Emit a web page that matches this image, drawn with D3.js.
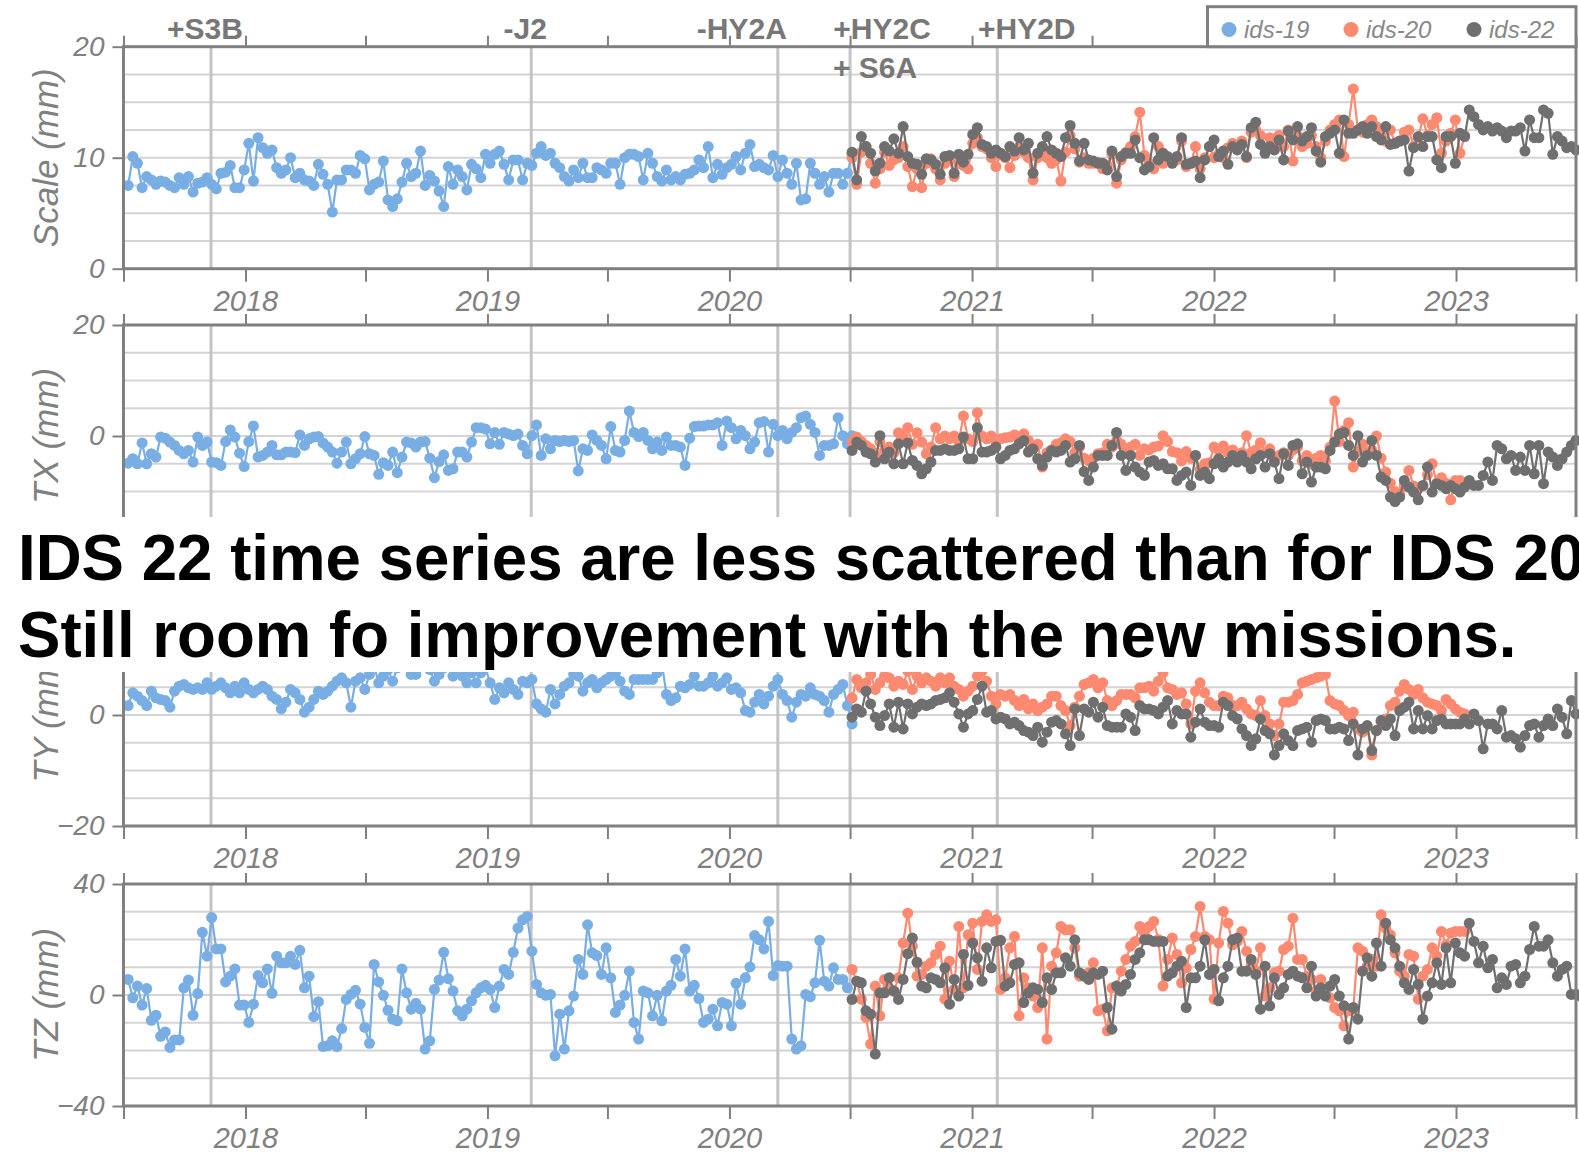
<!DOCTYPE html>
<html>
<head>
<meta charset="utf-8">
<script src="https://cdn.jsdelivr.net/npm/d3@7"></script>
<style>
  body { margin: 0; background: #fff; }
  svg { display: block; }
  text { font-family: "Liberation Sans", Arial, Helvetica, sans-serif; }
</style>
</head>
<body>
<div id="chart"></div>
<script>
// weekly solutions
const start19 = new Date(2017, 6, 8)
const start2x = new Date(2020, 6, 4)

const scale19 = [7.5,10.1,9.5,7.3,8.3,8.0,7.6,7.9,7.8,7.5,7.3,8.2,7.6,8.3,6.9,7.7,7.8,8.2,7.6,7.2,
  8.6,8.7,9.3,7.3,7.3,8.9,11.3,7.9,11.8,10.9,10.4,10.7,9.1,8.6,8.9,10.0,8.2,8.6,8.0,7.9,
  7.5,9.4,8.5,7.6,5.1,8.0,8.0,8.9,8.9,8.6,10.2,9.9,7.1,7.6,7.8,9.7,6.2,5.6,6.3,7.8,
  9.5,8.3,8.6,10.6,7.5,8.4,7.9,7.0,5.6,9.2,7.6,8.9,8.3,7.1,9.4,9.0,8.2,10.3,9.5,10.3,
  10.6,9.4,8.0,9.8,9.8,8.0,9.5,9.3,10.4,11.0,10.2,10.4,9.5,9.1,8.3,7.9,8.9,8.2,9.5,8.2,
  8.2,9.1,8.9,8.6,9.5,9.5,7.6,10.0,10.3,10.3,10.1,8.0,10.4,9.5,8.3,7.9,8.9,8.0,8.3,8.0,
  8.5,8.6,8.9,9.8,9.1,11.0,8.2,9.4,8.5,9.1,9.4,10.1,8.9,10.4,11.2,9.2,9.4,9.1,8.9,10.2,
  8.3,9.8,8.6,7.6,9.5,6.2,6.3,9.5,8.6,7.6,8.3,6.9,8.6,8.6,7.6,8.6,10.3]
const scale20 = [10.0,7.6,10.5,11.0,9.5,7.7,9.0,10.5,9.3,9.8,10.0,11.0,9.2,7.4,9.0,7.3,9.5,9.9,9.0,8.0,
  9.5,9.8,8.3,9.5,9.3,9.0,11.3,11.8,11.0,10.8,10.0,9.2,10.3,10.0,9.1,10.2,11.0,10.5,10.0,8.0,
  10.0,10.6,10.0,9.5,9.8,7.9,10.5,12.0,10.8,9.6,10.0,9.5,9.5,9.6,9.0,9.3,10.3,7.7,9.8,10.5,
  11.0,11.9,14.1,10.2,9.5,9.0,11.0,9.5,10.0,9.8,9.8,11.5,9.2,9.5,11.0,9.0,10.0,11.0,10.0,10.3,
  10.0,10.9,11.3,11.0,11.5,10.0,12.3,12.5,12.0,10.8,11.8,11.0,12.0,11.0,12.5,9.7,12.0,11.0,11.3,12.0,
  11.0,10.0,11.5,12.5,13.0,13.4,10.1,13.0,16.2,12.5,12.3,13.0,13.4,12.8,12.0,11.5,12.5,11.3,11.5,12.3,
  12.5,11.0,11.8,13.5,12.0,13.0,13.6,10.4,11.5,12.2,13.4,10.4,12.0]
const scale22 = [10.5,8.0,11.9,11.0,10.4,8.8,9.5,11.0,10.6,11.7,10.4,12.8,10.1,9.5,9.4,8.5,9.9,9.8,9.4,8.5,
  10.1,10.2,8.6,10.3,9.6,10.3,12.1,12.7,11.2,11.0,10.4,10.7,10.4,10.1,11.0,10.6,11.8,10.7,11.3,8.6,
  10.4,11.0,11.9,10.7,10.4,10.1,11.8,12.9,11.3,9.7,11.3,9.8,9.7,9.5,9.5,8.9,10.6,8.3,10.1,10.4,
  10.4,11.6,10.0,8.9,9.2,11.8,9.8,10.4,10.1,9.5,10.1,11.8,9.4,9.5,9.7,8.2,9.8,11.0,11.6,10.1,
  10.6,9.4,11.0,10.7,11.2,10.1,12.7,13.2,11.2,10.4,11.0,10.7,11.6,9.8,12.4,11.6,12.8,11.5,11.9,12.7,
  10.6,9.6,11.9,12.2,12.5,10.4,13.4,12.2,12.2,12.5,12.8,12.2,12.8,11.9,11.6,12.8,11.2,11.3,11.5,11.6,
  8.8,10.9,11.9,11.0,11.9,11.9,9.8,9.1,11.9,11.9,9.5,12.2,11.9,14.3,13.7,13.0,12.5,12.8,12.4,12.7,
  12.4,11.8,12.4,12.4,12.7,10.6,13.4,11.8,11.8,14.3,14.0,10.3,11.9,11.5,10.9,11.0,10.7]

const tx19 = [-4.9,-4.1,-5.0,-1.25,-5.0,-3.2,-3.8,-0.2,-0.4,-1.1,-1.7,-2.6,-3.2,-2.6,-4.7,-0.2,-1.7,-1.1,-4.7,-4.8,
  -5.3,-1.0,1.1,-0.2,-3.1,-5.5,-1.0,1.8,-3.8,-3.5,-2.9,-1.7,-3.4,-3.4,-2.9,-2.9,-3.0,0.2,-1.7,-0.5,
  -0.2,-0.1,-1.25,-2.0,-2.9,-4.9,-2.9,-1.1,-5.0,-4.1,-3.2,-0.1,-3.2,-3.5,-6.9,-4.8,-5.3,-2.9,-6.6,-3.8,
  -1.1,-1.25,-2.0,-1.1,-1.0,-4.0,-7.5,-4.6,-3.4,-6.2,-5.9,-2.9,-2.9,-3.8,-1.1,1.5,1.5,1.25,-1.4,0.65,
  -1.5,0.65,0.35,0.05,0.35,-1.7,-3.2,0.05,2.0,-3.5,-0.5,-2.3,-0.8,-1.0,-0.8,-1.0,-0.8,-6.3,-2.3,-2.6,
  0.2,-0.8,-1.7,-4.1,1.7,-2.6,-2.9,-0.8,4.5,0.65,-0.1,0.65,-0.8,-2.3,-1.1,-2.6,-0.2,-1.7,-1.7,-2.0,
  -5.3,-0.4,1.7,1.8,1.8,2.0,2.0,2.4,-1.7,2.7,1.5,-0.5,1.0,0.05,-2.3,-1.1,2.4,2.6,-2.9,2.1,
  0.05,1.0,-0.5,0.65,1.5,3.3,3.6,2.1,0.65,-3.5,-1.7,-1.7,-1.4,3.3,0.05,-1.4,0.05]
const tx20 = [-1.1,-0.2,-1.0,-1.7,-2.3,-3.5,-1.0,-2.6,-2.0,-3.0,0.6,0.0,1.5,-1.5,0.6,-1.1,-3.2,-2.0,1.5,-0.5,
  0.0,-0.5,0.0,-1.0,3.6,-0.5,-1.0,4.2,0.0,-0.5,0.0,-1.0,-0.5,-0.3,-0.2,0.2,-0.5,0.4,-0.8,-2.0,
  -1.5,-5.6,-3.0,-2.5,-1.5,-1.2,-0.5,-1.0,-3.0,-2.0,-4.0,-4.5,-4.0,-3.2,-3.0,-1.5,-2.0,-0.8,-1.5,-3.0,
  -2.0,-1.5,-3.5,-2.3,-2.5,-2.0,-1.8,0.05,-1.0,-2.8,-3.0,-4.5,-2.8,-4.0,-3.5,-6.0,-5.0,-4.8,-2.0,-2.5,
  -1.8,-3.0,-2.5,-3.5,-3.0,0.05,-3.0,-2.5,-1.2,-3.0,-2.3,-4.0,-3.5,-3.0,-3.5,-2.5,-2.0,-4.5,-3.5,-5.0,
  -4.0,-3.5,-4.5,-2.0,6.3,-1.0,1.0,2.4,-5.6,-2.8,-1.5,-3.0,-2.5,0.0,-4.0,-6.5,-8.5,-10.0,-10.5,-9.0,
  -6.2,-9.0,-9.5,-9.0,-7.0,-5.0,-8.5,-7.5,-8.5,-11.5,-8.0,-8.0,-8.5]
const tx22 = [-2.6,-1.1,-1.7,-2.9,-3.2,-4.7,0.05,-4.1,-2.9,-5.0,-1.4,-5.0,-1.25,-4.4,-5.3,-6.8,-5.9,-4.7,-2.6,-2.6,
  -2.3,-2.6,-2.6,-2.3,-0.2,-4.1,-4.1,1.5,-2.9,-2.9,-2.6,-2.0,-4.1,-3.5,-2.6,-2.3,-1.4,-0.8,-2.9,-2.3,
  -4.1,-5.3,-3.8,-2.6,-2.9,-2.6,-1.7,-4.7,-4.1,-1.7,-6.4,-8.0,-5.6,-3.5,-3.5,-3.5,-1.7,0.65,-3.5,-6.2,
  -3.5,-5.6,-6.5,-7.1,-4.7,-4.4,-5.3,-5.0,-5.9,-5.9,-8.0,-7.1,-6.5,-8.9,-3.5,-7.1,-6.5,-7.7,-5.0,-4.1,
  -5.6,-4.7,-3.5,-4.7,-3.5,-4.7,-5.9,-4.1,-3.5,-5.6,-3.2,-4.7,-7.7,-3.2,-5.3,-1.7,-1.4,-6.8,-4.7,-8.3,
  -5.6,-5.6,-5.9,-2.6,-1.1,0.35,0.65,-1.7,-3.5,0.05,-4.7,-3.5,-0.8,-3.5,-7.4,-8.0,-11.0,-11.8,-11.0,-8.0,
  -9.2,-10.1,-11.5,-8.9,-5.6,-10.1,-8.6,-8.9,-9.5,-8.9,-9.5,-10.1,-9.2,-8.0,-8.9,-8.9,-7.1,-4.7,-8.0,-1.7,
  -2.3,-4.1,-3.5,-6.2,-3.8,-6.2,-1.7,-6.8,-1.7,-8.6,-2.9,-3.8,-5.3,-4.1,-2.9,-1.7,-0.8]

const ty19 = [1.7,4.0,3.4,2.6,1.7,4.3,3.1,2.8,2.6,1.4,4.3,5.2,5.5,4.9,4.6,4.9,4.6,5.8,4.6,5.2,
  5.8,4.9,4.0,5.2,4.0,5.8,4.6,4.0,4.6,5.2,4.6,3.4,2.8,1.1,2.3,4.6,4.0,2.8,0.5,1.4,
  2.8,4.3,3.7,4.3,5.2,6.1,6.7,5.8,1.4,6.1,6.7,4.6,7.3,8.8,5.8,7.0,8.2,6.1,8.5,8.8,
  9.1,7.3,7.3,8.8,9.4,8.2,6.1,7.3,8.5,8.8,7.0,8.2,7.0,5.8,7.6,5.8,7.6,8.5,5.8,2.8,
  4.9,4.0,5.8,4.6,3.7,6.1,5.8,6.4,2.0,1.1,0.5,4.6,2.0,3.7,5.2,5.8,7.3,7.0,4.3,5.8,
  6.4,4.9,5.8,6.4,7.0,7.6,6.1,4.3,3.7,6.4,6.4,6.4,6.4,6.4,7.6,9.4,3.7,2.6,3.1,5.2,
  4.9,5.5,7.0,5.2,5.2,5.8,7.0,5.2,5.8,6.7,4.6,4.9,4.0,0.8,0.5,2.3,3.7,2.0,3.4,5.2,
  6.4,3.7,2.6,-0.4,2.3,3.7,3.4,4.9,3.7,3.4,2.6,0.5,3.7,4.6,5.5,1.7,-1.6]
const ty20 = [3.1,6.4,4.9,5.8,7.3,4.6,5.8,7.0,6.7,5.2,6.1,5.5,7.9,4.6,7.0,5.8,6.7,6.1,5.2,6.7,
  5.8,6.7,5.2,4.6,3.4,4.3,5.2,7.0,7.9,6.1,3.4,2.0,3.7,3.4,3.7,2.6,1.7,2.8,1.1,2.0,
  0.8,1.4,2.0,3.4,3.4,1.7,0.8,-1.9,1.4,3.4,5.5,5.8,6.4,4.9,5.8,2.6,1.7,2.6,3.7,3.7,
  3.7,3.1,4.9,4.9,5.2,4.3,6.1,7.6,4.9,4.6,3.7,4.0,2.0,-1.6,4.3,5.8,4.0,2.3,1.7,1.7,
  3.4,3.1,1.7,1.7,2.3,1.1,0.2,-0.1,2.6,-0.1,-1.6,-3.7,-1.6,2.3,2.3,2.6,3.7,5.8,6.1,6.4,
  6.7,7.0,7.3,2.6,2.0,1.7,0.8,-0.1,0.5,-2.5,-3.1,-2.2,-7.2,-2.8,-1.3,-0.7,1.7,2.3,4.3,5.5,
  4.6,3.7,4.6,3.1,2.3,2.0,1.7,0.8,2.8,2.0,1.1,0.5,0.2]
const ty22 = [-0.4,1.1,0.5,4.3,2.0,-0.4,-1.9,-0.1,2.0,-2.2,2.3,-2.5,2.0,0.2,1.4,2.0,1.7,2.0,2.6,2.8,
  3.1,4.0,2.3,0.2,-2.2,0.2,0.8,2.8,5.2,0.5,0.8,-0.7,-0.4,-0.7,-1.6,-1.3,-1.9,-2.8,-3.1,-3.7,
  -2.2,-4.9,-3.1,-1.3,-1.0,-1.6,-3.4,-5.5,1.1,-3.7,1.1,0.5,2.3,-0.4,1.4,-1.9,-2.2,-2.2,-2.2,0.2,
  -0.4,-2.8,1.7,1.1,1.1,0.8,0.2,1.4,2.6,-1.6,0.8,0.2,0.2,-4.0,-1.3,1.1,-1.3,-1.9,-1.9,-2.2,
  2.3,1.7,-0.1,-0.7,-2.5,-3.7,-5.5,-4.3,-0.7,-2.8,-3.4,-7.2,-5.5,-3.4,-4.6,-5.5,-2.8,-2.5,-2.2,-4.9,
  -1.0,-0.7,-1.0,-2.5,-2.5,-2.2,-2.5,-4.6,-1.6,-7.2,-2.5,-1.9,-6.4,-2.8,-1.0,-1.9,-0.7,-3.7,0.8,1.4,
  2.3,-2.5,0.8,-2.5,-0.1,-2.5,-1.0,-0.7,-1.6,-1.6,-1.6,-1.6,-0.7,-1.6,0.2,-1.0,-6.1,-1.6,-1.6,-2.5,
  0.8,-4.0,-3.7,-4.3,-5.8,-3.7,-1.9,-1.6,-4.0,-1.9,-0.7,-1.9,1.1,-0.4,-3.4,2.6,0.2]

const tz19 = [5.6,-1.0,3.2,-3.6,2.3,-9.1,-7.3,-14.9,-13.3,-18.9,-16.2,-16.2,2.6,5.4,-7.3,0.5,22.6,14.0,27.9,16.6,
  16.6,4.7,6.8,9.4,-3.6,-3.6,-9.9,-3.3,7.0,4.4,9.4,0.6,14.0,11.6,11.6,14.0,11.0,16.1,2.6,6.8,
  -7.8,-2.4,-18.6,-18.3,-16.5,-18.6,-12.1,-1.6,0.2,1.7,-3.3,-11.7,-17.4,11.0,4.7,-0.1,-5.5,-8.7,-9.3,9.4,
  0.8,-5.1,-3.0,-5.1,-19.5,-16.5,2.0,5.4,15.4,5.9,1.4,-5.7,-7.5,-5.1,-2.1,0.8,2.6,3.5,2.0,-4.5,
  3.2,9.2,7.4,15.4,24.1,27.1,28.3,15.8,3.8,0.8,-0.1,0.2,-21.9,-6.9,-19.5,-5.7,-0.4,12.8,7.4,25.3,
  15.2,14.2,7.4,17.0,6.2,-6.3,-3.6,-0.1,8.6,-9.9,-15.9,1.4,0.8,-7.5,-0.1,-9.3,1.4,3.5,12.8,6.8,
  16.6,1.4,3.5,-1.3,-9.9,-8.7,-5.1,-11.1,-2.7,-3.3,-11.1,4.2,-3.3,6.2,10.1,21.4,19.9,16.6,26.5,7.0,
  10.6,10.4,10.4,-15.9,-19.5,-18.3,0.2,-0.6,4.4,19.7,5.0,3.2,9.8,5.6,5.6,2.6]
const tz20 = [9.2,5.0,-1.5,-8.1,-17.7,3.2,-7.5,5.6,2.6,1.4,6.2,18.7,29.5,17.6,6.8,7.4,10.4,11.6,14.6,17.6,
  -1.5,12.2,2.0,24.7,2.6,21.7,25.9,9.2,26.5,28.9,26.5,27.1,2.0,6.2,17.0,21.1,-7.5,6.2,2.6,-0.4,
  -4.5,17.0,-15.9,10.4,15.2,24.7,23.5,23.5,17.0,6.8,7.4,8.0,11.6,-5.7,-5.1,-12.9,2.6,3.2,8.6,12.8,
  17.6,19.3,24.7,22.3,24.7,26.5,20.0,3.2,12.8,20.5,14.6,4.4,9.8,16.4,21.1,31.9,21.1,19.9,-1.5,18.7,
  30.1,25.9,18.1,19.3,22.9,15.8,11.0,8.6,17.0,-0.4,2.6,8.0,8.6,16.4,17.6,27.7,12.8,12.8,6.8,5.6,
  1.4,5.6,0.8,-1.0,-4.5,-5.7,-11.1,-5.7,-5.1,17.0,15.8,10.4,12.8,10.4,28.9,24.1,21.7,15.2,8.6,6.8,
  14.6,14.0,-1.5,6.8,9.2,17.0,14.0,22.9,18.1,22.3,22.9,22.9,22.9]
const tz22 = [-1.6,5.0,4.4,-5.7,-6.9,-21.3,0.8,0.8,6.2,1.4,-1.6,5.6,14.9,20.5,11.8,3.2,2.6,6.2,5.6,4.4,
  9.8,-3.3,5.6,-0.4,14.6,3.5,18.7,13.4,5.0,17.0,9.8,19.3,19.7,3.2,4.4,11.0,11.6,-2.7,0.8,2.6,
  2.0,-2.7,6.2,2.0,8.0,8.0,13.4,10.4,19.9,8.0,6.8,5.6,8.0,7.4,8.6,-4.5,-12.3,3.2,1.4,3.8,
  7.4,12.8,15.2,19.9,19.9,19.3,19.3,19.3,6.8,8.0,10.4,12.2,-4.5,6.2,6.2,10.4,19.9,7.4,9.2,-2.1,
  6.2,10.4,19.9,20.5,8.6,8.6,12.8,7.4,-5.1,10.4,-3.9,6.2,0.2,2.6,7.4,8.6,6.8,6.2,2.6,10.4,
  -0.4,2.6,-0.4,3.2,5.6,-0.4,-3.9,-15.9,-4.5,-8.7,8.6,13.4,6.8,18.7,10.4,25.9,19.9,17.0,10.4,4.4,
  2.0,9.2,3.8,-8.7,-0.4,4.4,11.6,3.8,17.0,4.4,18.7,15.2,14.0,25.9,19.3,11.6,17.6,9.8,12.8,2.6,
  6.2,3.8,10.4,11.0,4.4,6.8,16.4,24.7,17.6,17.6,19.9,11.6,6.8,9.2,10.4,0.2,0.2,-0.4]

// panels
const panelTitles = ["Scale (mm)", "TX (mm)", "TY (mm)", "TZ (mm)"]
const panelDomains = [[0, 20], [-20, 20], [-20, 20], [-40, 40]]
const gridSteps = [2.5, 5, 5, 10]
// labelled y ticks that are not hidden under the headline
const yTickLabels = [[0, 10, 20], [0, 20], [-20, 0], [-40, 0, 40]]
// the TX year labels sit under the headline
const showYearLabels = [true, false, true, true]

// mission events
const eventDates = [new Date(2017, 10, 10), new Date(2019, 2, 8), new Date(2020, 2, 14), new Date(2020, 6, 1), new Date(2021, 1, 8)]
const eventLabels = ["+S3B", "-J2", "-HY2A", "+HY2C", "+HY2D"]
const eventLabels2 = ["", "", "", "+ S6A", ""]

const seriesNames = ["ids-19", "ids-20", "ids-22"]
const seriesColors = ["#79aee4", "#fd8a70", "#6f6f6f"]

const headline1 = "IDS 22 time series are less scattered than for IDS 20"
const headline2 = "Still room fo improvement with the new missions."

// layout
const width = 1579
const height = 1153
const panelTops = [46.7, 325, 604, 884]
const panelH = 222
const left = 123.5
const right = 1576
const labelDx = [-6, -6, -36, 32, 29.5]
const label2Dx = [0, 0, 0, 25, 0]
const axisGray = "#808080"

const svg = d3.select("#chart")
  .append("svg")
  .attr("width", width)
  .attr("height", height)

const x = d3.scaleTime()
  .domain([new Date(2017, 6, 1), new Date(2023, 6, 1)])
  .range([left, right])

const weekly = (start, vals) => vals.map((v, i) => ({ date: d3.timeWeek.offset(start, i), v: v }))

const panelData = [
  [scale19, scale20, scale22],
  [tx19, tx20, tx22],
  [ty19, ty20, ty22],
  [tz19, tz20, tz22]
]

panelData.forEach(function(series, p) {
  const top = panelTops[p]
  const y = d3.scaleLinear().domain(panelDomains[p]).range([top + panelH, top])
  const g = svg.append("g")

  // horizontal grid
  const [lo, hi] = panelDomains[p]
  const gridVals = d3.range(lo + gridSteps[p], hi, gridSteps[p])
  g.selectAll(".grid")
    .data(gridVals)
    .join("line")
    .attr("x1", left).attr("x2", right)
    .attr("y1", d => y(d)).attr("y2", d => y(d))
    .attr("stroke", "#d4d4d4")
    .attr("stroke-width", 2)

  // mission lines
  g.selectAll(".ev")
    .data(eventDates)
    .join("line")
    .attr("x1", d => x(d)).attr("x2", d => x(d))
    .attr("y1", top).attr("y2", top + panelH)
    .attr("stroke", "#c4c4c4")
    .attr("stroke-width", 3)

  // series
  const starts = [start19, start2x, start2x]
  series.forEach(function(vals, s) {
    const pts = weekly(starts[s], vals)
    g.append("path")
      .datum(pts)
      .attr("fill", "none")
      .attr("stroke", seriesColors[s])
      .attr("stroke-width", 2.2)
      .attr("d", d3.line().x(d => x(d.date)).y(d => y(d.v)))
    g.selectAll(".pt" + s)
      .data(pts)
      .join("circle")
      .attr("cx", d => x(d.date))
      .attr("cy", d => y(d.v))
      .attr("r", 5.5)
      .attr("fill", seriesColors[s])
  })

  // axes
  const yAxis = d3.axisLeft(y)
    .tickValues(yTickLabels[p])
    .tickSize(11)
    .tickPadding(8)
    .tickFormat(d => d < 0 ? "\u2212" + Math.abs(d) : d)
  const ya = g.append("g").attr("transform", `translate(${left},0)`).call(yAxis)
  ya.select(".domain").remove()
  ya.selectAll("line").attr("stroke", axisGray).attr("stroke-width", 2)
  ya.selectAll("text")
    .attr("fill", axisGray)
    .style("font-size", "28px")
    .style("font-style", "italic")

  const halfYears = d3.timeMonth.every(6).range(new Date(2017, 6, 1), new Date(2023, 6, 2))
  const xb = g.append("g").attr("transform", `translate(0,${top + panelH})`)
    .call(d3.axisBottom(x).tickValues(halfYears).tickSize(13)
      .tickFormat(d => showYearLabels[p] && d.getMonth() === 0 ? d.getFullYear() : ""))
  xb.select(".domain").remove()
  xb.selectAll("line").attr("stroke", axisGray).attr("stroke-width", 2)
  xb.selectAll("text")
    .attr("y", 42).attr("dy", 0)
    .attr("fill", axisGray)
    .style("font-size", "29px")
    .style("font-style", "italic")

  const xt = g.append("g").attr("transform", `translate(0,${top})`)
    .call(d3.axisTop(x).tickValues(halfYears).tickSize(11).tickFormat(""))
  xt.select(".domain").remove()
  xt.selectAll("line").attr("stroke", axisGray).attr("stroke-width", 2)

  // frame
  g.append("rect")
    .attr("x", left).attr("y", top)
    .attr("width", right - left).attr("height", panelH)
    .attr("fill", "none")
    .attr("stroke", axisGray)
    .attr("stroke-width", 3)

  // title
  g.append("text")
    .attr("transform", `translate(58,${top + panelH / 2}) rotate(-90)`)
    .attr("text-anchor", "middle")
    .attr("fill", axisGray)
    .style("font-size", "35px")
    .style("font-style", "italic")
    .text(panelTitles[p])
})

// mission labels
svg.selectAll(".evlab")
  .data(eventLabels)
  .join("text")
  .attr("x", (d, i) => x(eventDates[i]) + labelDx[i])
  .attr("y", 39)
  .attr("text-anchor", "middle")
  .attr("fill", "#777")
  .style("font-size", "30px")
  .style("font-weight", "bold")
  .text(d => d)
svg.selectAll(".evlab2")
  .data(eventLabels2)
  .join("text")
  .attr("x", (d, i) => x(eventDates[i]) + label2Dx[i])
  .attr("y", 78)
  .attr("text-anchor", "middle")
  .attr("fill", "#777")
  .style("font-size", "30px")
  .style("font-weight", "bold")
  .text(d => d)

// legend
const lg = svg.append("g")
lg.append("rect")
  .attr("x", 1207.5).attr("y", 6.7)
  .attr("width", right - 1207.5).attr("height", 40)
  .attr("fill", "#fff")
  .attr("stroke", axisGray)
  .attr("stroke-width", 3)
const legendX = [1229, 1351, 1474]
seriesNames.forEach(function(name, i) {
  lg.append("circle")
    .attr("cx", legendX[i]).attr("cy", 29.5)
    .attr("r", 7.5)
    .attr("fill", seriesColors[i])
  lg.append("text")
    .attr("x", legendX[i] + 15).attr("y", 38)
    .attr("fill", "#888")
    .style("font-size", "24px")
    .style("font-style", "italic")
    .text(name)
})

// headline overlay
svg.append("rect")
  .attr("x", 0).attr("y", 517)
  .attr("width", width).attr("height", 155)
  .attr("fill", "#fff")
const h1 = svg.append("text").attr("y", 580).text(headline1)
const h2 = svg.append("text").attr("y", 657).text(headline2)
;[h1, h2].forEach(t => t
  .attr("fill", "#000")
  .style("font-size", "65px")
  .style("font-weight", "bold"))
const sx = 1499 / h2.node().getComputedTextLength()
h1.attr("transform", `translate(18,0) scale(${sx},1)`)
h2.attr("transform", `translate(18,0) scale(${sx},1)`)
</script>
</body>
</html>
